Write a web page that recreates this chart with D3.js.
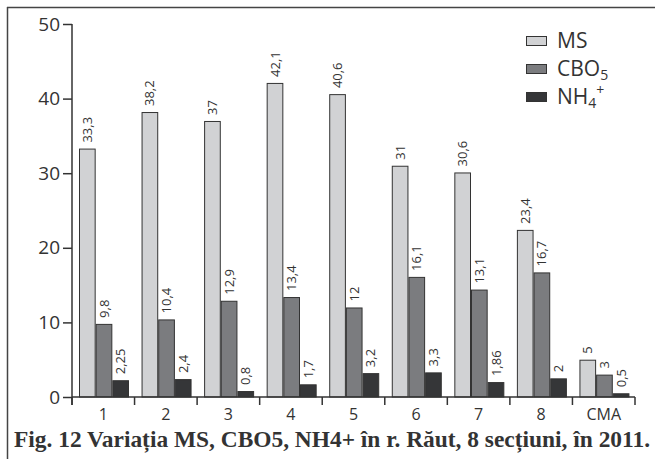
<!DOCTYPE html>
<html><head><meta charset="utf-8">
<script src="https://cdn.jsdelivr.net/npm/d3@7"></script>
<style>
body{margin:0;background:#fff;}
svg{display:block;}
text{font-family:"Open Sans",sans-serif;fill:#333;}
text.cap{font-family:"Liberation Serif","DejaVu Serif",serif;font-weight:bold;}
</style></head><body>
<svg id="c" width="655" height="459"></svg>
<script>
const categories = ["1","2","3","4","5","6","7","8","CMA"];
const seriesNames = ["MS","CBO5","NH4"];
const msValues   = [33.3, 38.2, 37, 42.1, 40.6, 31, 30.1, 22.4, 5];
const cboValues  = [9.8, 10.4, 12.9, 13.4, 12, 16.1, 14.4, 16.7, 3];
const nh4Values  = [2.25, 2.4, 0.8, 1.7, 3.2, 3.3, 2.0, 2.5, 0.5];
const msLabels   = ["33,3","38,2","37","42,1","40,6","31","30,6","23,4","5"];
const cboLabels  = ["9,8","10,4","12,9","13,4","12","16,1","13,1","16,7","3"];
const nh4Labels  = ["2,25","2,4","0,8","1,7","3,2","3,3","1,86","2","0,5"];
const yTicks = [0,10,20,30,40,50];
const colors = ["#d1d2d4","#7b7c7f","#353638"];
const caption = "Fig. 12 Variația MS, CBO5, NH4+ în r. Răut, 8 secțiuni, în 2011.";

const svg = d3.select("#c");
const mLeft = 72, mRight = 635, mTop = 24, mBottom = 397;

const x0 = d3.scaleBand().domain(categories).range([mLeft, mRight]);
const x1 = d3.scaleBand().domain(seriesNames).range([7, 57]);
const y = d3.scaleLinear().domain([0,50]).range([mBottom, mTop]);

// frame lines
svg.append("line").attr("x1",7.5).attr("x2",7.5).attr("y1",7).attr("y2",459).attr("stroke","#444").attr("stroke-width",1.5);
svg.append("line").attr("x1",7).attr("x2",655).attr("y1",7.5).attr("y2",7.5).attr("stroke","#444").attr("stroke-width",1.5);

const allVals = [msValues, cboValues, nh4Values];
const allLabels = [msLabels, cboLabels, nh4Labels];
const data = [];
categories.forEach((c,i)=>{
  seriesNames.forEach((s,j)=>{
    data.push({c, s, j, v: allVals[j][i], lab: allLabels[j][i]});
  });
});

const g = svg.append("g");
g.selectAll("rect.bar").data(data).join("rect")
  .attr("class","bar")
  .attr("x", d => x0(d.c) + x1(d.s) + 0.5)
  .attr("y", d => y(d.v) + 0.5)
  .attr("width", x1.bandwidth() - 1)
  .attr("height", d => y(0) - y(d.v) - 0.5)
  .attr("fill", d => colors[d.j])
  .attr("stroke", "#333")
  .attr("stroke-width", 1);

g.selectAll("text.lab").data(data).join("text")
  .attr("class","lab")
  .attr("transform", d => `translate(${x0(d.c)+x1(d.s)+x1.bandwidth()/2},${y(d.v)-6}) rotate(-90)`)
  .attr("dy","0.35em")
  .attr("font-size", 13)
  .text(d => d.lab);

// y axis
const yAxis = d3.axisLeft(y).tickValues(yTicks).tickSize(9).tickPadding(3);
const ya = svg.append("g").attr("transform",`translate(${mLeft},0)`).call(yAxis);
ya.select(".domain").attr("d", `M0,${mTop}V${mBottom+8}`).attr("stroke","#333").attr("stroke-width",1.5);
ya.selectAll(".tick line").attr("stroke","#333").attr("stroke-width",1.5);
ya.selectAll(".tick text").attr("font-size",19).attr("fill","#333");

// x axis
const xa = svg.append("g").attr("transform",`translate(0,${mBottom})`);
xa.append("line").attr("x1",mLeft).attr("x2",mRight).attr("y1",0).attr("y2",0).attr("stroke","#333").attr("stroke-width",1.5);
const bounds = categories.map(c => x0(c)).concat([mRight]);
xa.selectAll("line.t").data(bounds).join("line").attr("class","t")
  .attr("x1",d=>d).attr("x2",d=>d).attr("y1",0).attr("y2",8).attr("stroke","#333").attr("stroke-width",1.5);
xa.selectAll("text.xl").data(categories).join("text").attr("class","xl")
  .attr("x", d => x0(d) + x0.bandwidth()/2)
  .attr("y", 23)
  .attr("text-anchor","middle")
  .attr("font-size",16)
  .text(d=>d);

// legend
const legLabels = [["MS"],["CBO","5"],["NH","4","+"]];
const leg = svg.append("g");
legLabels.forEach((l,i)=>{
  const yy = 36 + i*28;
  leg.append("rect").attr("x",526.5).attr("y",yy+0.5).attr("width",20).attr("height",9)
    .attr("fill",colors[i]).attr("stroke","#333");
  const t = leg.append("text").attr("x",557).attr("y",yy+12).attr("font-size",21);
  t.append("tspan").text(l[0]);
  if (l[1]) t.append("tspan").attr("font-size",14).attr("dy",4).text(l[1]);
  if (l[2]) t.append("tspan").attr("font-size",14).attr("dy",-13).text(l[2]);
});

// caption
svg.append("text").attr("class","cap").attr("x",14).attr("y",447)
  .attr("font-size",24)
  .attr("textLength",636).attr("lengthAdjust","spacingAndGlyphs")
  .text(caption);
</script>
</body></html>
